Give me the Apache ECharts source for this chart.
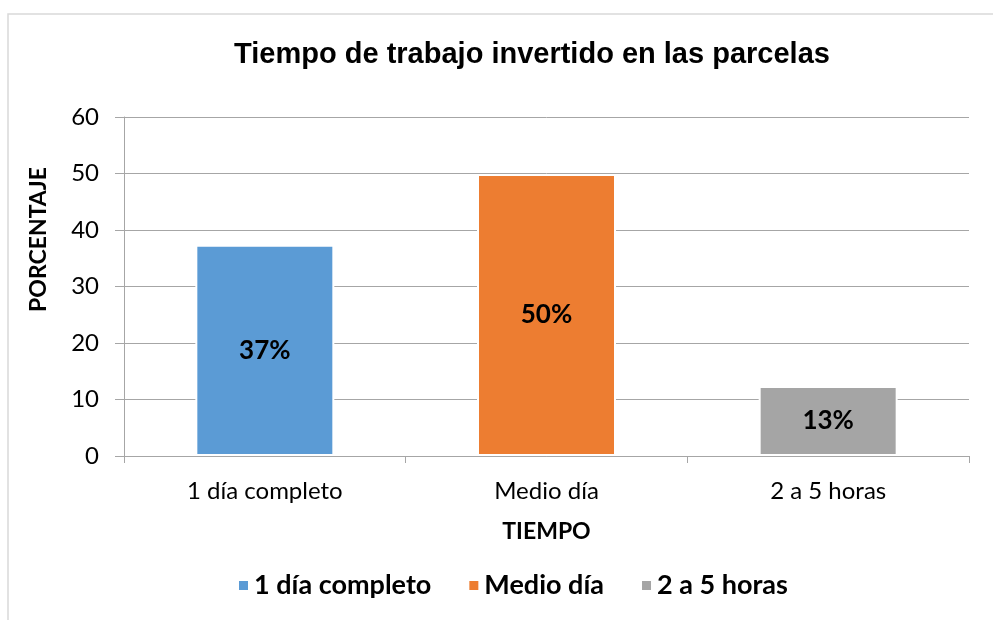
<!DOCTYPE html>
<html>
<head>
<meta charset="utf-8">
<script src="https://cdn.jsdelivr.net/npm/echarts@6/dist/echarts.min.js"></script>
<style>html,body{margin:0;padding:0;background:#fff;}#c{width:993px;height:620px;}</style>
</head>
<body>
<div id="c"></div>
<script>
const categories = ['1 día completo', 'Medio día', '2 a 5 horas'];
const values = [37.4, 49.9, 12.4];
const valueLabels = ['37%', '50%', '13%'];
const colors = ['#5b9bd5', '#ed7d31', '#a5a5a5'];
const yTicks = [0, 10, 20, 30, 40, 50, 60];

const chart = echarts.init(document.getElementById('c'));
const series = categories.map((name, i) => ({
  name: name,
  type: 'bar',
  stack: 'all',
  barWidth: 139,
  data: categories.map((c, j) => (j === i ? values[i] : null)),
  itemStyle: { color: colors[i], borderColor: '#ffffff', borderWidth: 2 },
  label: {
    show: true,
    position: 'inside',
    formatter: () => valueLabels[i],
    color: '#000',
    fontFamily: 'Lato',
    fontWeight: 'bold',
    fontSize: 26
  }
}));

chart.setOption({
  animation: false,
  backgroundColor: '#ffffff',
  color: colors,
  graphic: [{
    type: 'rect',
    shape: { x: 8, y: 14, width: 1000, height: 620 },
    style: { fill: 'none', stroke: '#d9d9d9', lineWidth: 1.5 },
    silent: true
  }],
  title: {
    text: 'Tiempo de trabajo invertido en las parcelas',
    left: 527,
    top: 35,
    textAlign: 'center',
    textStyle: { fontFamily: 'Liberation Sans', fontWeight: 'bold', fontSize: 29, color: '#000' }
  },
  legend: {
    bottom: 16,
    left: 232,
    itemWidth: 11,
    itemHeight: 11,
    itemGap: 36,
    icon: 'rect',
    data: categories,
    textStyle: { fontFamily: 'Lato', fontWeight: 'bold', fontSize: 27, color: '#000' }
  },
  grid: { left: 124, right: 24, top: 117, bottom: 164 },
  xAxis: {
    type: 'category',
    data: categories,
    z: 3,
    name: 'TIEMPO',
    nameLocation: 'middle',
    nameGap: 64,
    nameTextStyle: { fontFamily: 'Lato', fontWeight: 'bold', fontSize: 23, color: '#000' },
    axisLine: { lineStyle: { color: '#a6a6a6', width: 1 } },
    axisTick: { show: true, length: 7, lineStyle: { color: '#a6a6a6' } },
    axisLabel: { margin: 23, fontFamily: 'Lato', fontSize: 24, color: '#000' }
  },
  yAxis: {
    type: 'value',
    min: 0,
    max: 60,
    interval: 10,
    name: 'PORCENTAJE',
    nameLocation: 'middle',
    nameGap: 74,
    nameRotate: 90,
    nameTextStyle: { fontFamily: 'Lato', fontWeight: 'bold', fontSize: 23, color: '#000', padding: [0, 0, 0, 94] },
    axisLine: { show: true, lineStyle: { color: '#a6a6a6', width: 1 } },
    axisTick: { show: true, length: 9, lineStyle: { color: '#a6a6a6' } },
    axisLabel: {
      margin: 25, fontFamily: 'Lato', fontSize: 24, color: '#000',
      formatter: v => (yTicks.indexOf(v) >= 0 ? String(v) : '')
    },
    splitLine: { lineStyle: { color: '#a6a6a6', width: 1 } }
  },
  series: series
});
</script>
</body>
</html>
